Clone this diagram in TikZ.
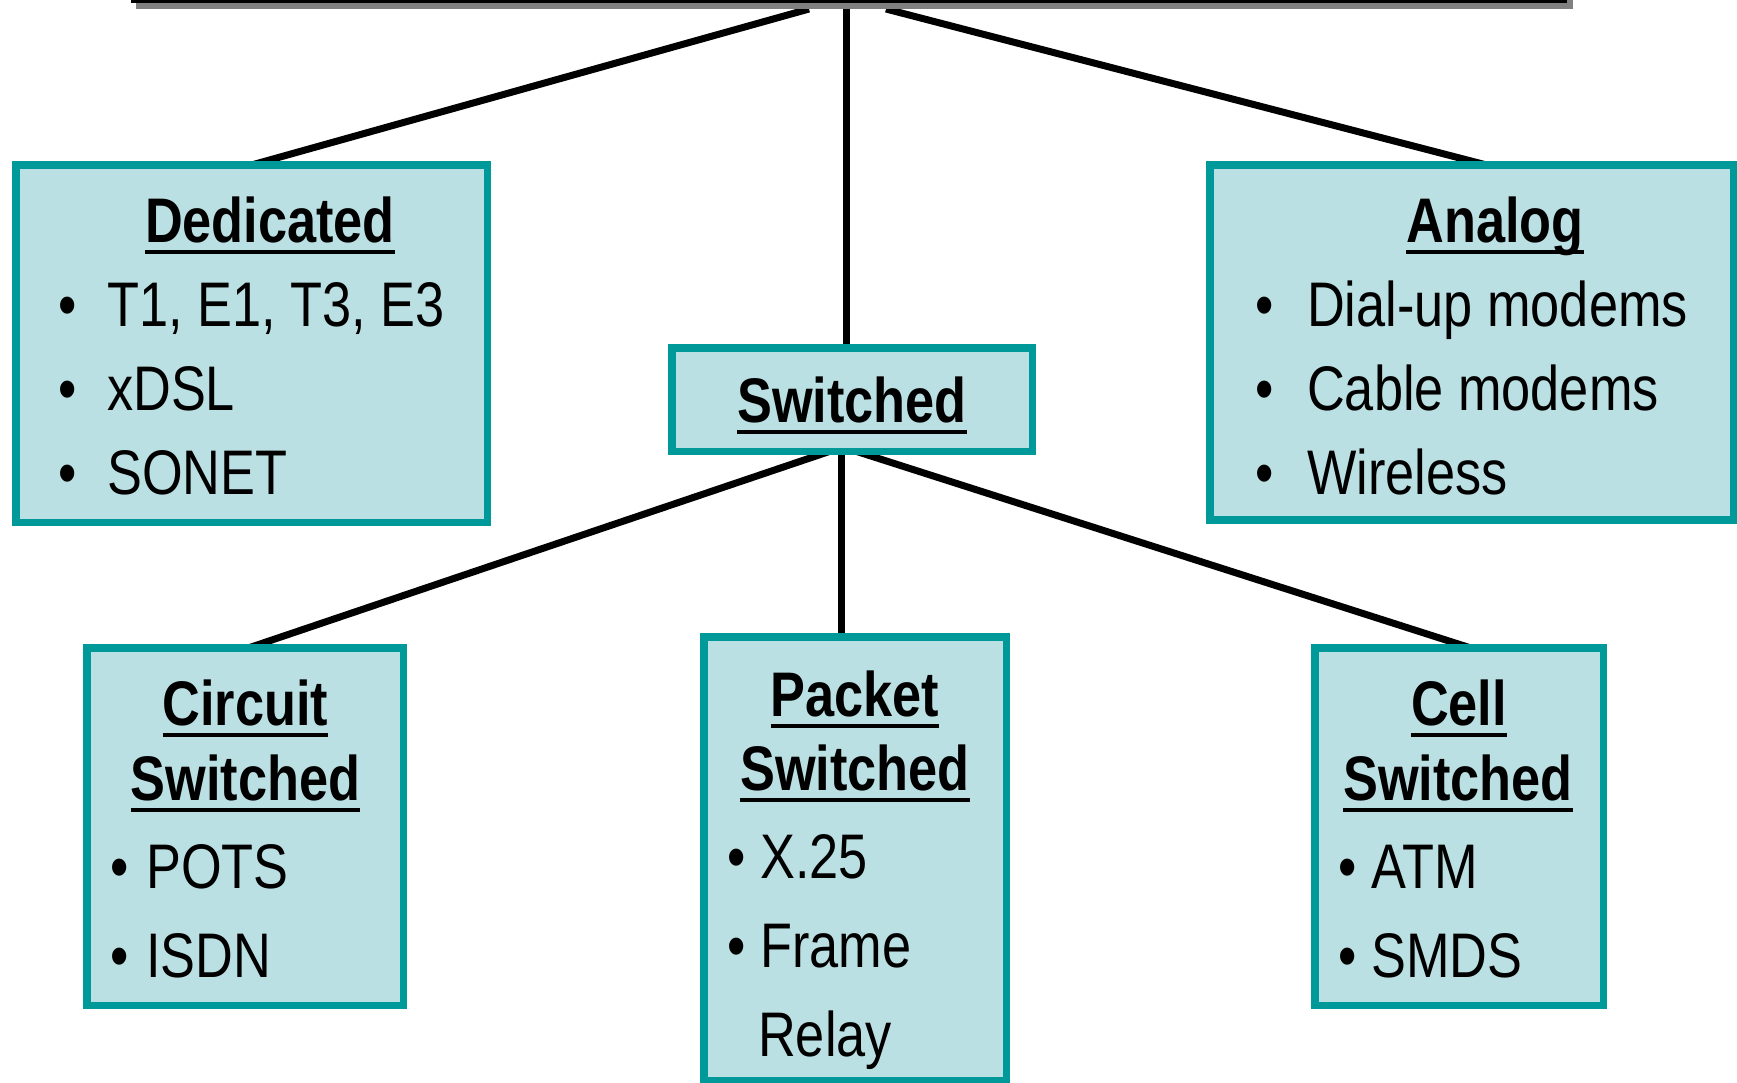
\documentclass[tikz,border=0pt]{standalone}
\usepackage{fontspec}
\setmainfont{Liberation Sans}[FakeStretch=0.83]
\definecolor{boxfill}{RGB}{187,224,227}
\definecolor{boxline}{RGB}{0,153,153}
\definecolor{shadowgray}{RGB}{128,128,128}
\newcommand\hdul[1]{\setbox0\hbox{#1}\rlap{\raisebox{-11.5pt}{\rule{\wd0}{4pt}}}\box0}
\pgfdeclarelayer{bg}
\pgfsetlayers{bg,main}
\tikzset{
  wanbox/.style={rectangle, draw=boxline, fill=boxfill, line width=7.5pt, inner sep=0pt, outer sep=0pt},
  conn/.style={line width=7pt, black},
  head/.style={anchor=base, inner sep=0pt, font=\fontsize{63}{75}\selectfont\bfseries},
  item/.style={anchor=base west, inner sep=0pt, font=\fontsize{63}{75}\selectfont},
  bul/.style={anchor=base, inner sep=0pt, font=\fontsize{63}{75}\selectfont},
  rootbar/.style={rectangle, fill=black, inner sep=0pt, outer sep=0pt}
}
\begin{document}
\begin{tikzpicture}[x=1pt,y=-1pt]
\useasboundingbox (0,0) rectangle (1737,1082);
\begin{pgfonlayer}{bg}
\fill[white] (0,0) rectangle (1737,1082);
\end{pgfonlayer}
% top bar (bottom of an off-page box) with shadow
\fill[shadowgray] (136,0) rectangle (1573,9);
\node[rootbar, minimum width=1436pt, minimum height=6pt] (root) at (849,0) {};
% boxes
\node[wanbox, minimum width=471.5pt, minimum height=357.5pt] (ded) at (251.5,343.5) {};
\node[wanbox, minimum width=523.5pt, minimum height=355pt] (ana) at (1471.5,342.5) {};
\node[wanbox, minimum width=360.5pt, minimum height=103.5pt] (sw) at (852,399.5) {};
\node[wanbox, minimum width=316.5pt, minimum height=357.5pt] (cir) at (245,826.5) {};
\node[wanbox, minimum width=302.5pt, minimum height=443.5pt] (pk) at (855,858.5) {};
\node[wanbox, minimum width=288.5pt, minimum height=357.5pt] (cel) at (1459,826.5) {};
% Dedicated
\node[head] (dedh) at (270,242) {\hdul{Dedicated}};
\node[bul] (db1) at (68,326) {•};
\node[item] (dt1) at (107,326) {T1, E1, T3, E3};
\node[bul] (db2) at (68,410) {•};
\node[item] (dt2) at (107,410) {xDSL};
\node[bul] (db3) at (68,494) {•};
\node[item] (dt3) at (107,494) {SONET};
% Analog
\node[head] (anah) at (1495,242) {\hdul{Analog}};
\node[bul] (ab1) at (1265,326) {•};
\node[item] (at1) at (1307,326) {Dial-up modems};
\node[bul] (ab2) at (1265,410) {•};
\node[item] (at2) at (1307,410) {Cable modems};
\node[bul] (ab3) at (1265,494) {•};
\node[item] (at3) at (1307,494) {Wireless};
% Switched
\node[head] (swh) at (852,422) {\hdul{Switched}};
% Circuit Switched
\node[head] (cirh1) at (245.5,725) {\hdul{Circuit}};
\node[head] (cirh2) at (245.5,800) {\hdul{Switched}};
\node[bul] (cb1) at (120,888) {•};
\node[item] (ct1) at (146,888) {POTS};
\node[bul] (cb2) at (120,977) {•};
\node[item] (ct2) at (146,977) {ISDN};
% Packet Switched
\node[head] (pkh1) at (855,716) {\hdul{Packet}};
\node[head] (pkh2) at (855,790) {\hdul{Switched}};
\node[bul] (pb1) at (737,878) {•};
\node[item] (pt1) at (760,878) {X.25};
\node[bul] (pb2) at (737,967) {•};
\node[item] (pt2) at (760,967) {Frame};
\node[item] (pt3) at (758,1056) {Relay};
% Cell Switched
\node[head] (celh1) at (1459,725) {\hdul{Cell}};
\node[head] (celh2) at (1458,800) {\hdul{Switched}};
\node[bul] (eb1) at (1348,888) {•};
\node[item] (et1) at (1371,888) {ATM};
\node[bul] (eb2) at (1348,977) {•};
\node[item] (et2) at (1371,977) {SMDS};
% connectors
\begin{pgfonlayer}{bg}
\draw[conn] ([xshift=-40pt,yshift=-6pt]root.south) -- ([xshift=1pt]ded.north);
\draw[conn] ([xshift=-3pt]root.south) -- ([xshift=-6pt]sw.north);
\draw[conn] ([xshift=37pt,yshift=-6pt]root.south) -- ([xshift=15pt]ana.north);
\draw[conn] ([xshift=-22pt]sw.south) -- ([xshift=4pt]cir.north);
\draw[conn] ([xshift=-11pt]sw.south) -- ([xshift=-14pt]pk.north);
\draw[conn] ([xshift=4pt]sw.south) -- ([xshift=11pt]cel.north);
\end{pgfonlayer}
\end{tikzpicture}
\end{document}
